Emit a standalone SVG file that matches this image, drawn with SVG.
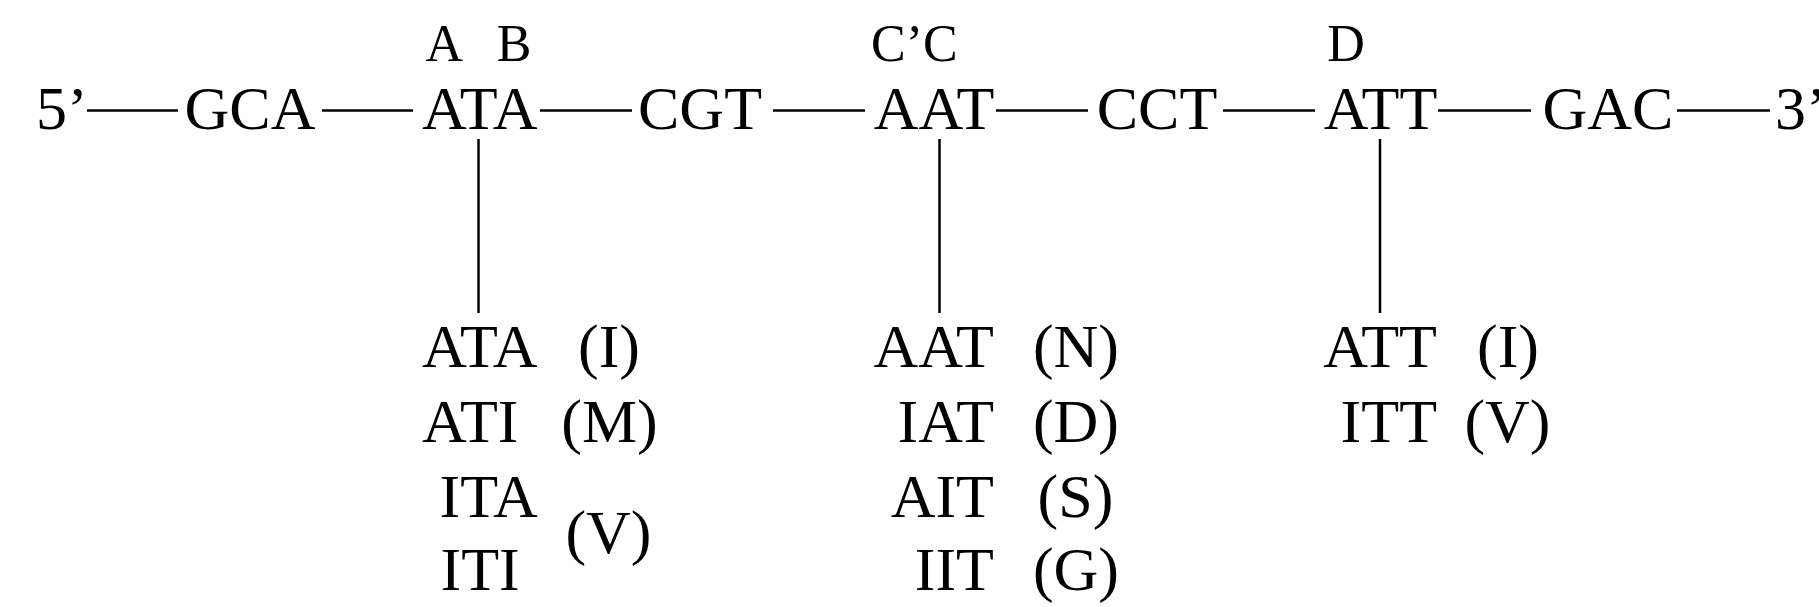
<svg xmlns="http://www.w3.org/2000/svg" width="1819" height="607" viewBox="0 0 1819 607">
<style>
text{font-family:"Liberation Serif","Times New Roman",serif;fill:#000}
.m{font-size:62px;text-anchor:middle}
.s{font-size:62px;text-anchor:start}
.e{font-size:62px;text-anchor:end}
.l{font-size:52px;text-anchor:middle}
.c{stroke:#000;stroke-width:2.5;fill:none}
</style>
<rect width="1819" height="607" fill="#fff"/>
<g id="connectors" class="c">
<line x1="87" y1="110.5" x2="178" y2="110.5"/>
<line x1="322" y1="110.5" x2="413" y2="110.5"/>
<line x1="540" y1="110.5" x2="632" y2="110.5"/>
<line x1="773" y1="110.5" x2="865" y2="110.5"/>
<line x1="996" y1="110.5" x2="1088" y2="110.5"/>
<line x1="1223" y1="110.5" x2="1315" y2="110.5"/>
<line x1="1438" y1="110.5" x2="1531" y2="110.5"/>
<line x1="1677" y1="110.5" x2="1770" y2="110.5"/>
<line x1="478.5" y1="139" x2="478.5" y2="313"/>
<line x1="939.5" y1="139" x2="939.5" y2="313"/>
<line x1="1380" y1="139" x2="1380" y2="313"/>
</g>
<g id="end5"><text class="s" x="36" y="129">5’</text></g>
<g id="gca"><text class="m" x="250" y="129">GCA</text></g>
<g id="ata"><text class="m" x="479.7" y="129">ATA</text><text class="l" x="444.3" y="60.7">A</text><text class="l" x="514" y="60.7">B</text></g>
<g id="cgt"><text class="m" x="700" y="129">CGT</text></g>
<g id="aat"><text class="m" x="934" y="129">AAT</text><text class="l" x="914.3" y="60.7">C’C</text></g>
<g id="cct"><text class="m" x="1157" y="129">CCT</text></g>
<g id="att"><text class="m" x="1380.5" y="129">ATT</text><text class="l" x="1346" y="60.7">D</text></g>
<g id="gac"><text class="m" x="1608" y="129">GAC</text></g>
<g id="end3"><text class="s" x="1775" y="129">3’</text></g>
<g id="variants-ata">
<text class="s" x="422" y="366.7">ATA</text>
<text class="m" x="609" y="366.7">(I)</text>
<text class="s" x="422" y="441.7">ATI</text>
<text class="m" x="609.5" y="441.7">(M)</text>
<text class="s" x="439.5" y="516.7">ITA</text>
<text class="s" x="440.5" y="590">ITI</text>
<text class="m" x="608.5" y="553">(V)</text>
</g>
<g id="variants-aat">
<text class="e" x="994" y="366.7">AAT</text>
<text class="m" x="1076" y="366.7">(N)</text>
<text class="e" x="994" y="441.7">IAT</text>
<text class="m" x="1076" y="441.7">(D)</text>
<text class="e" x="994" y="516.7">AIT</text>
<text class="m" x="1075.5" y="516.7">(S)</text>
<text class="e" x="994" y="590">IIT</text>
<text class="m" x="1076" y="590">(G)</text>
</g>
<g id="variants-att">
<text class="e" x="1437" y="366.7">ATT</text>
<text class="m" x="1508" y="366.7">(I)</text>
<text class="e" x="1437" y="441.7">ITT</text>
<text class="m" x="1507.5" y="441.7">(V)</text>
</g>
</svg>
